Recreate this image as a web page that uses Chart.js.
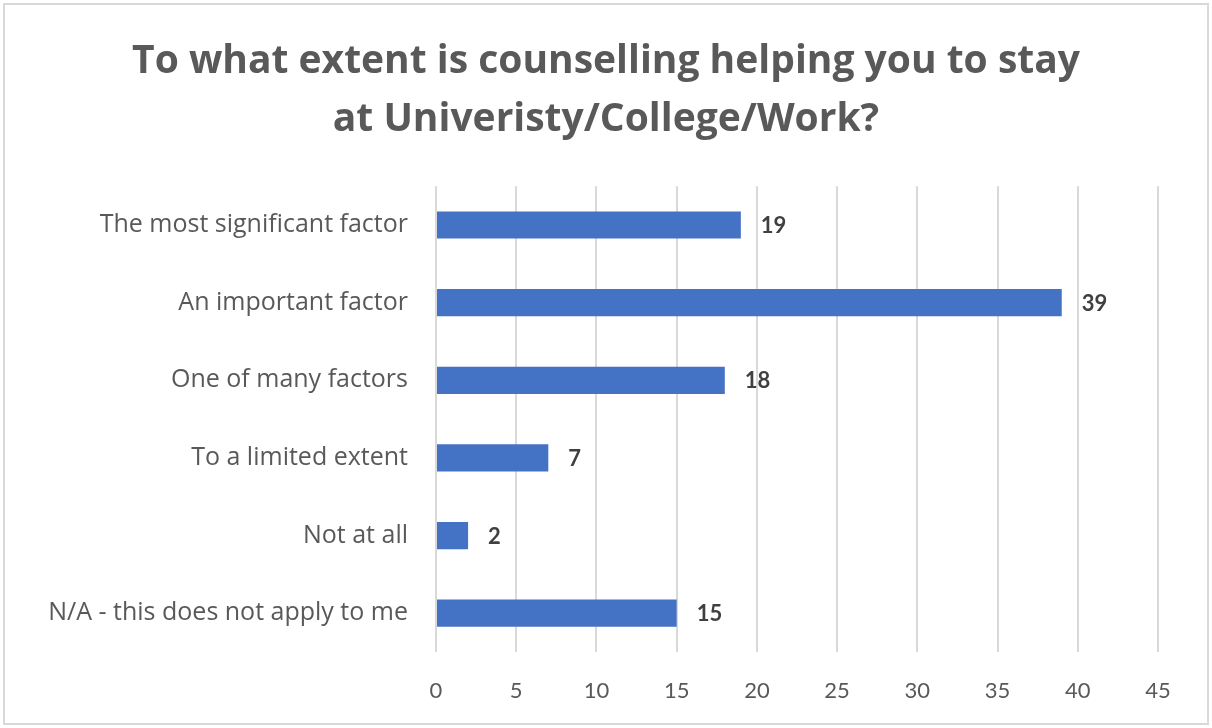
<!DOCTYPE html>
<html>
<head>
<meta charset="utf-8">
<script src="https://cdn.jsdelivr.net/npm/chart.js@4"></script>
<style>
  html, body { margin: 0; padding: 0; background: #fff; }
  #wrap { width: 1212px; height: 728px; position: relative; }
</style>
</head>
<body>
<div id="wrap"><canvas id="chart" width="1212" height="728"></canvas></div>
<script>
// chart data
var titleLines = ['To what extent is counselling helping you to stay', 'at Univeristy/College/Work?'];
var categories = [
  'The most significant factor',
  'An important factor',
  'One of many factors',
  'To a limited extent',
  'Not at all',
  'N/A - this does not apply to me'
];
var responses = [19, 39, 18, 7, 2, 15];
var xMax = 45;
var xStep = 5;

var textGrey = '#595959';
var barBlue = '#4472C4';

// white page + thin grey frame around the chart
var framePlugin = {
  id: 'frame',
  beforeDraw: function(chart) {
    var ctx = chart.ctx;
    ctx.save();
    ctx.fillStyle = '#fff';
    ctx.fillRect(0, 0, chart.width, chart.height);
    ctx.strokeStyle = '#d9d9d9';
    ctx.lineWidth = 2;
    ctx.strokeRect(4, 4, chart.width - 8, chart.height - 8);
    ctx.restore();
  }
};

// value labels at the end of each bar
var valueLabels = {
  id: 'valueLabels',
  afterDatasetsDraw: function(chart) {
    var ctx = chart.ctx;
    var meta = chart.getDatasetMeta(0);
    ctx.save();
    ctx.font = 'bold 22px Lato, "Liberation Sans", sans-serif';
    ctx.fillStyle = '#404040';
    ctx.textAlign = 'left';
    ctx.textBaseline = 'middle';
    meta.data.forEach(function(bar, i) {
      ctx.fillText(responses[i], bar.x + 20, bar.y + 1);
    });
    ctx.restore();
  }
};

new Chart(document.getElementById('chart'), {
  type: 'bar',
  data: {
    labels: categories,
    datasets: [{
      data: responses,
      backgroundColor: barBlue,
      borderWidth: 0,
      categoryPercentage: 1,
      barPercentage: 0.35
    }]
  },
  options: {
    indexAxis: 'y',
    responsive: false,
    animation: false,
    devicePixelRatio: 1,
    layout: { padding: 0 },
    plugins: {
      legend: { display: false },
      tooltip: { enabled: false },
      title: {
        display: true,
        text: titleLines,
        color: textGrey,
        font: { family: '"Open Sans", "Liberation Sans", sans-serif', size: 39, weight: 'bold', lineHeight: 1.49 },
        padding: { top: 33, bottom: 37 }
      }
    },
    scales: {
      x: {
        min: 0,
        max: xMax,
        ticks: {
          stepSize: xStep,
          color: textGrey,
          padding: 26,
          font: { family: 'Lato, "Liberation Sans", sans-serif', size: 22 }
        },
        grid: { color: '#d9d9d9', lineWidth: 2, drawTicks: false },
        border: { display: false },
        afterFit: function(scale) {
          scale.height = 76;
          scale.paddingRight = 54; // right margin of plot area, title stays centred
        }
      },
      y: {
        ticks: {
          color: textGrey,
          padding: 20,
          font: { family: '"Open Sans", "Liberation Sans", sans-serif', size: 25 }
        },
        grid: { display: false },
        border: { display: false },
        afterFit: function(scale) { scale.width = 436; }
      }
    }
  },
  plugins: [framePlugin, valueLabels]
});
</script>
</body>
</html>
